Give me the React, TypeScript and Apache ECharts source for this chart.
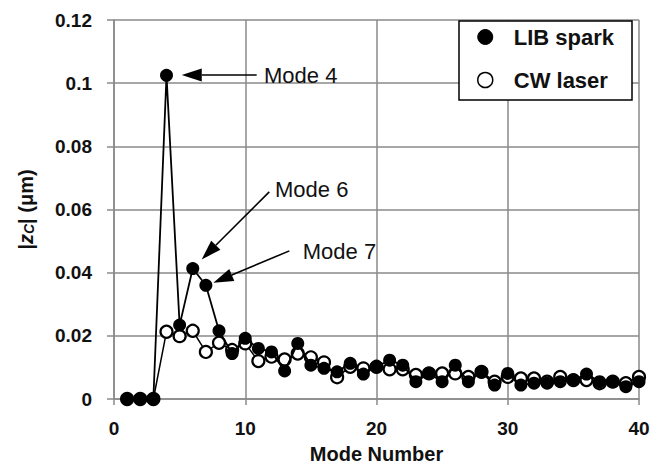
import React, { useEffect, useRef } from "react";
import * as echarts from "echarts";

const modes: number[] = Array.from({ length: 40 }, (_, i) => i + 1);
const libSpark: number[] = [
  0, 0, 0, 0.1025, 0.0234, 0.0413, 0.036, 0.0216, 0.0144, 0.0192,
  0.016, 0.0149, 0.0089, 0.0176, 0.0107, 0.0097, 0.0086, 0.0113, 0.0079, 0.0102,
  0.0123, 0.0107, 0.0055, 0.0081, 0.0055, 0.0107, 0.0055, 0.0086, 0.0044, 0.0081,
  0.0044, 0.005, 0.005, 0.0055, 0.006, 0.0079, 0.0055, 0.0055, 0.0039, 0.0055,
];
const cwLaser: number[] = [
  0, 0, 0, 0.0213, 0.0199, 0.0216, 0.0149, 0.0178, 0.0155, 0.0176,
  0.012, 0.0134, 0.0125, 0.0144, 0.0132, 0.0116, 0.0069, 0.0102, 0.0097, 0.0102,
  0.0094, 0.0094, 0.0076, 0.0081, 0.0081, 0.0081, 0.007, 0.0086, 0.0055, 0.007,
  0.0065, 0.0065, 0.0055, 0.007, 0.006, 0.006, 0.005, 0.0055, 0.005, 0.007,
];
const yTicks: number[] = [0, 0.02, 0.04, 0.06, 0.08, 0.1, 0.12];
const xTicks: number[] = [0, 10, 20, 30, 40];

// annotations: label, label anchor [mode, value], arrow tail, arrow tip (data coords)
const annLabels: string[] = ["Mode 4", "Mode 6", "Mode 7"];
const annText: number[][] = [[11.43, 0.1023], [12.27, 0.0662], [14.38, 0.0466]];
const annTail: number[][] = [[10.87, 0.1026], [11.83, 0.0656], [13.36, 0.0469]];
const annTip: number[][] = [[5.16, 0.1026], [6.68, 0.0442], [7.57, 0.0368]];

const FONT = "'Liberation Sans', Arial, sans-serif";

export default function App() {
  const ref = useRef<HTMLDivElement>(null);

  useEffect(() => {
    if (!ref.current) return;
    const chart = echarts.init(ref.current, null, { renderer: "svg" });
    const gridColor = "#8a8a8a";
    chart.setOption({
      animation: false,
      backgroundColor: "#ffffff",
      grid: { left: 114, right: 24, top: 20, bottom: 73 },
      xAxis: {
        type: "value",
        min: 0,
        max: 40,
        interval: 10,
        name: "Mode Number",
        nameLocation: "middle",
        nameGap: 45,
        nameTextStyle: { fontFamily: FONT, fontWeight: "bold", fontSize: 20, color: "#111" },
        axisLine: { show: true, lineStyle: { color: gridColor, width: 1.5 } },
        axisTick: { show: true, length: 6, lineStyle: { color: gridColor, width: 1.5 } },
        axisLabel: {
          margin: 20,
          fontFamily: FONT,
          fontWeight: "bold",
          fontSize: 19,
          color: "#111",
          formatter: (v: number) => (xTicks.includes(v) ? String(v) : ""),
        },
        splitLine: { show: true, lineStyle: { color: gridColor, width: 1.5 } },
      },
      yAxis: {
        type: "value",
        min: 0,
        max: 0.12,
        interval: 0.02,
        name: "{b||}{z|z}{c|C}{b|| (μm)}",
        nameLocation: "middle",
        nameRotate: 90,
        nameGap: 78,
        nameTextStyle: {
          fontFamily: FONT,
          fontWeight: "bold",
          fontSize: 20,
          color: "#111",
          rich: {
            b: { fontFamily: FONT, fontWeight: "bold", fontSize: 20, color: "#111" },
            z: { fontFamily: FONT, fontWeight: "bold", fontStyle: "italic", fontSize: 20, color: "#111" },
            c: { fontFamily: FONT, fontWeight: "bold", fontStyle: "italic", fontSize: 14, color: "#111", verticalAlign: "bottom" },
          },
        },
        axisLine: { show: true, lineStyle: { color: gridColor, width: 1.5 } },
        axisTick: { show: true, length: 7, lineStyle: { color: gridColor, width: 1.5 } },
        axisLabel: {
          margin: 22,
          fontFamily: FONT,
          fontWeight: "bold",
          fontSize: 19,
          color: "#111",
          formatter: (v: number) => {
            const t = yTicks.find((y) => Math.abs(y - v) < 1e-9);
            return t === undefined ? "" : String(parseFloat(t.toFixed(2)));
          },
        },
        splitLine: { show: true, lineStyle: { color: gridColor, width: 1.5 } },
      },
      legend: {
        orient: "vertical",
        left: 459,
        top: 21,
        width: 178,
        padding: [5, 18, 9, 18],
        itemGap: 21,
        itemWidth: 15,
        itemHeight: 15,
        backgroundColor: "#ffffff",
        borderColor: "#000",
        borderWidth: 1.5,
        borderRadius: 0,
        formatter: "{a|{name}}",
        textStyle: {
          rich: {
            a: {
              fontFamily: FONT,
              fontWeight: "bold",
              fontSize: 22,
              color: "#111",
              lineHeight: 26,
              padding: [0, 0, 0, 16],
            },
          },
        },
        data: [
          { name: "LIB spark", icon: "circle", itemStyle: { color: "#000", borderColor: "#000", borderWidth: 1 } },
          { name: "CW laser", icon: "circle", itemStyle: { color: "#fff", borderColor: "#000", borderWidth: 1.5 } },
        ],
      },
      series: [
        {
          name: "CW laser",
          type: "line",
          z: 2,
          data: modes.map((m, i) => [m, cwLaser[i]]),
          symbol: "circle",
          symbolSize: 12,
          lineStyle: { color: "#000", width: 1.5 },
          itemStyle: { color: "#fff", borderColor: "#000", borderWidth: 2.2 },
        },
        {
          name: "LIB spark",
          type: "line",
          z: 3,
          data: modes.map((m, i) => [m, libSpark[i]]),
          symbol: "circle",
          symbolSize: 13,
          lineStyle: { color: "#000", width: 1.8 },
          itemStyle: { color: "#000", borderColor: "#000", borderWidth: 0 },
        },
      ],
    });

    const px = (p: number[]) => chart.convertToPixel({ gridIndex: 0 }, p) as number[];
    const elements: any[] = [];
    annLabels.forEach((label, i) => {
      const tail = px(annTail[i]);
      const tip = px(annTip[i]);
      const txt = px(annText[i]);
      const dx = tip[0] - tail[0];
      const dy = tip[1] - tail[1];
      const len = Math.sqrt(dx * dx + dy * dy);
      const ux = dx / len;
      const uy = dy / len;
      const headLen = 20;
      const headHalf = 6.5;
      const bx = tip[0] - ux * headLen;
      const by = tip[1] - uy * headLen;
      elements.push({
        type: "line",
        z: 100,
        shape: { x1: tail[0], y1: tail[1], x2: bx, y2: by },
        style: { stroke: "#000", lineWidth: 1.6 },
      });
      elements.push({
        type: "polygon",
        z: 100,
        shape: {
          points: [
            [tip[0], tip[1]],
            [bx - uy * headHalf, by + ux * headHalf],
            [bx + uy * headHalf, by - ux * headHalf],
          ],
        },
        style: { fill: "#000" },
      });
      elements.push({
        type: "text",
        z: 100,
        x: txt[0],
        y: txt[1],
        style: {
          text: label,
          fontFamily: FONT,
          fontSize: 22,
          fill: "#111",
          textAlign: "left",
          textVerticalAlign: "middle",
        },
      });
    });
    chart.setOption({ graphic: { elements } });

    return () => chart.dispose();
  }, []);

  return (
    <div
      ref={ref}
      style={{ position: "fixed", left: 0, top: 0, width: 663, height: 472, background: "#fff" }}
    />
  );
}
